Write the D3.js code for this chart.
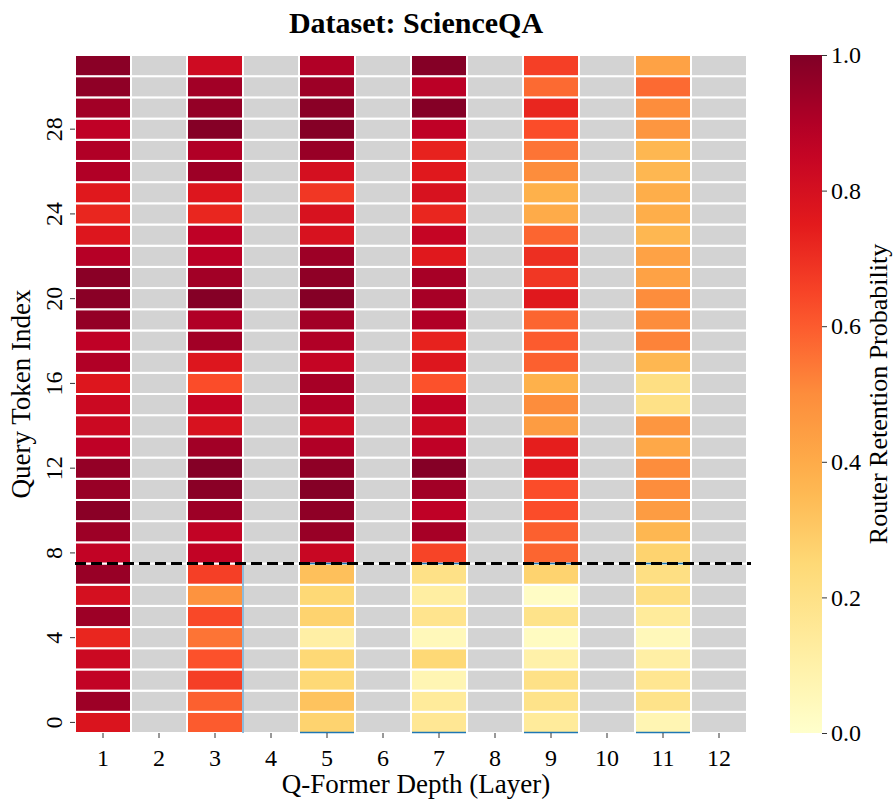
<!DOCTYPE html>
<html>
<head>
<meta charset="UTF-8">
<title>Dataset: ScienceQA</title>
<script src="https://cdn.jsdelivr.net/npm/d3@7"></script>
<style>
body { margin: 0; background: #fff; }
svg { font-family: "Liberation Serif", "Times New Roman", serif; }
</style>
</head>
<body>
<script>
// layers on x axis, query tokens on y axis (row 0 at the bottom)
var layers = [1, 2, 3, 4, 5, 6, 7, 8, 9, 10, 11, 12];
var tokens = d3.range(0, 32);
var yTicks = [0, 4, 8, 12, 16, 20, 24, 28];
var cbTicks = [0, 0.2, 0.4, 0.6, 0.8, 1.0];
var splitAt = 7.5;

// router retention probability, listed token 0 -> 31
var layer1  = [0.78,0.94,0.86,0.83,0.72,0.94,0.80,0.95,0.86,0.94,0.98,0.95,0.96,0.87,0.83,0.83,0.77,0.90,0.87,0.96,0.98,0.98,0.89,0.77,0.72,0.76,0.90,0.90,0.87,0.93,0.97,0.98];
var layer3  = [0.60,0.59,0.66,0.62,0.55,0.64,0.48,0.66,0.86,0.86,0.94,0.98,0.99,0.93,0.79,0.85,0.63,0.77,0.93,0.90,0.99,0.93,0.88,0.87,0.72,0.77,0.94,0.90,0.99,0.96,0.93,0.82];
var layer5  = [0.27,0.32,0.25,0.25,0.11,0.27,0.25,0.33,0.84,0.95,0.97,0.99,0.97,0.90,0.83,0.90,0.92,0.85,0.90,0.93,0.99,0.97,0.94,0.79,0.79,0.68,0.80,0.95,0.99,0.98,0.94,0.90];
var layer7  = [0.16,0.14,0.07,0.25,0.05,0.18,0.12,0.20,0.65,0.92,0.87,0.93,0.99,0.87,0.83,0.86,0.62,0.77,0.73,0.90,0.92,0.92,0.76,0.85,0.72,0.79,0.76,0.73,0.87,0.99,0.88,0.99];
var layer9  = [0.14,0.19,0.20,0.10,0.03,0.19,0.02,0.27,0.58,0.59,0.63,0.63,0.76,0.74,0.45,0.50,0.38,0.59,0.60,0.58,0.76,0.68,0.70,0.58,0.40,0.38,0.50,0.55,0.63,0.72,0.57,0.66];
var layer11 = [0.07,0.19,0.17,0.11,0.05,0.14,0.21,0.21,0.27,0.36,0.45,0.50,0.50,0.41,0.47,0.20,0.21,0.36,0.52,0.50,0.50,0.43,0.43,0.36,0.39,0.39,0.36,0.36,0.47,0.50,0.57,0.43];
// even layers have no router -> null (drawn gray)
var layerValues = [layer1, null, layer3, null, layer5, null, layer7, null, layer9, null, layer11, null];

var width = 896, height = 800;
var plotLeft = 75, plotRight = 747, plotTop = 55, plotBottom = 733;
var tickFont = 24, labelFont = 27;

var svg = d3.select("body").append("svg")
    .attr("width", width)
    .attr("height", height);

var x = d3.scaleBand().domain(layers).range([plotLeft, plotRight]);
var y = d3.scaleBand().domain(tokens).range([plotBottom, plotTop]);
var yLin = d3.scaleLinear().domain([-0.5, 31.5]).range([plotBottom, plotTop]);

// matplotlib YlOrRd
var ylorrd = ["#ffffcc","#ffeda0","#fed976","#feb24c","#fd8d3c","#fc4e2a","#e31a1c","#bd0026","#800026"];
var color = d3.scaleLinear()
    .domain(d3.range(9).map(function(i) { return i / 8; }))
    .range(ylorrd);

var cells = [];
layers.forEach(function(l, li) {
    tokens.forEach(function(t) {
        var vals = layerValues[li];
        cells.push({layer: l, token: t, value: vals ? vals[t] : null});
    });
});

svg.append("g").selectAll("rect")
    .data(cells)
    .enter()
    .append("rect")
    .attr("x", function(d) { return x(d.layer); })
    .attr("y", function(d) { return y(d.token); })
    .attr("width", x.bandwidth())
    .attr("height", y.bandwidth())
    .attr("fill", function(d) { return d.value === null ? "#d3d3d3" : color(d.value); })
    .attr("stroke", "white")
    .attr("stroke-width", 2);

// thin blue edges left by the pruned-region boxes
var boxed = [5, 7, 9, 11];
var blue = svg.append("g").attr("stroke", "#1f77b4").attr("stroke-width", 1.5);
boxed.forEach(function(l) {
    blue.append("line")
        .attr("x1", x(l) + 1).attr("x2", x(l) + x.bandwidth() - 1)
        .attr("y1", plotBottom - 0.5).attr("y2", plotBottom - 0.5);
    blue.append("line")
        .attr("x1", x(l) + 1).attr("x2", x(l) + x.bandwidth() - 1)
        .attr("y1", yLin(splitAt)).attr("y2", yLin(splitAt));
});
blue.append("line")
    .attr("x1", x(3) + x.bandwidth()).attr("x2", x(3) + x.bandwidth())
    .attr("y1", yLin(splitAt)).attr("y2", plotBottom)
    .attr("stroke-width", 1);

// split line
svg.append("line")
    .attr("x1", plotLeft).attr("x2", plotRight + 4)
    .attr("y1", yLin(splitAt)).attr("y2", yLin(splitAt))
    .attr("stroke", "black")
    .attr("stroke-width", 3)
    .attr("stroke-dasharray", "11,5");

// axes
var xAxis = svg.append("g")
    .attr("transform", "translate(0," + plotBottom + ")")
    .call(d3.axisBottom(x).tickSizeOuter(0).tickSize(5).tickPadding(11));
xAxis.select(".domain").remove();
xAxis.attr("font-size", tickFont).attr("font-family", "Liberation Serif");
xAxis.selectAll("line").attr("stroke", "#333");

var yAxis = svg.append("g")
    .attr("transform", "translate(" + plotLeft + ",0)")
    .call(d3.axisLeft(y).tickValues(yTicks).tickSize(5).tickSizeOuter(0));
yAxis.select(".domain").remove();
yAxis.attr("font-size", tickFont).attr("font-family", "Liberation Serif");
yAxis.selectAll("line").attr("stroke", "#333");
yAxis.selectAll("text")
    .attr("text-anchor", "middle")
    .attr("x", 0).attr("y", 0).attr("dy", 0)
    .attr("transform", "translate(-13,0) rotate(-90)");

svg.append("text")
    .attr("x", 416)
    .attr("y", 793)
    .attr("text-anchor", "middle")
    .attr("font-size", labelFont)
    .text("Q-Former Depth (Layer)");

svg.append("text")
    .attr("transform", "translate(30," + (plotTop + plotBottom) / 2 + ") rotate(-90)")
    .attr("text-anchor", "middle")
    .attr("font-size", labelFont)
    .text("Query Token Index");

svg.append("text")
    .attr("x", 416)
    .attr("y", 33)
    .attr("text-anchor", "middle")
    .attr("font-size", 30)
    .attr("font-weight", "bold")
    .text("Dataset: ScienceQA");

// colorbar
var cbX = 790, cbW = 32;
var cb = d3.scaleLinear().domain([0, 1]).range([plotBottom, plotTop]);
var grad = svg.append("defs").append("linearGradient")
    .attr("id", "cbgrad")
    .attr("x1", 0).attr("y1", 1).attr("x2", 0).attr("y2", 0);
d3.range(0, 1.0001, 0.05).forEach(function(s) {
    grad.append("stop").attr("offset", s).attr("stop-color", color(s));
});
svg.append("rect")
    .attr("x", cbX).attr("y", plotTop)
    .attr("width", cbW).attr("height", plotBottom - plotTop)
    .attr("fill", "url(#cbgrad)");
var cbAxis = svg.append("g")
    .attr("transform", "translate(" + (cbX + cbW) + ",0)")
    .call(d3.axisRight(cb).tickValues(cbTicks).tickFormat(d3.format(".1f")).tickSize(5).tickPadding(4).tickSizeOuter(0));
cbAxis.select(".domain").remove();
cbAxis.attr("font-size", tickFont).attr("font-family", "Liberation Serif");
cbAxis.selectAll("line").attr("stroke", "#333");

svg.append("text")
    .attr("transform", "translate(887," + (plotTop + plotBottom) / 2 + ") rotate(-90)")
    .attr("text-anchor", "middle")
    .attr("font-size", 26)
    .text("Router Retention Probability");
</script>
</body>
</html>
